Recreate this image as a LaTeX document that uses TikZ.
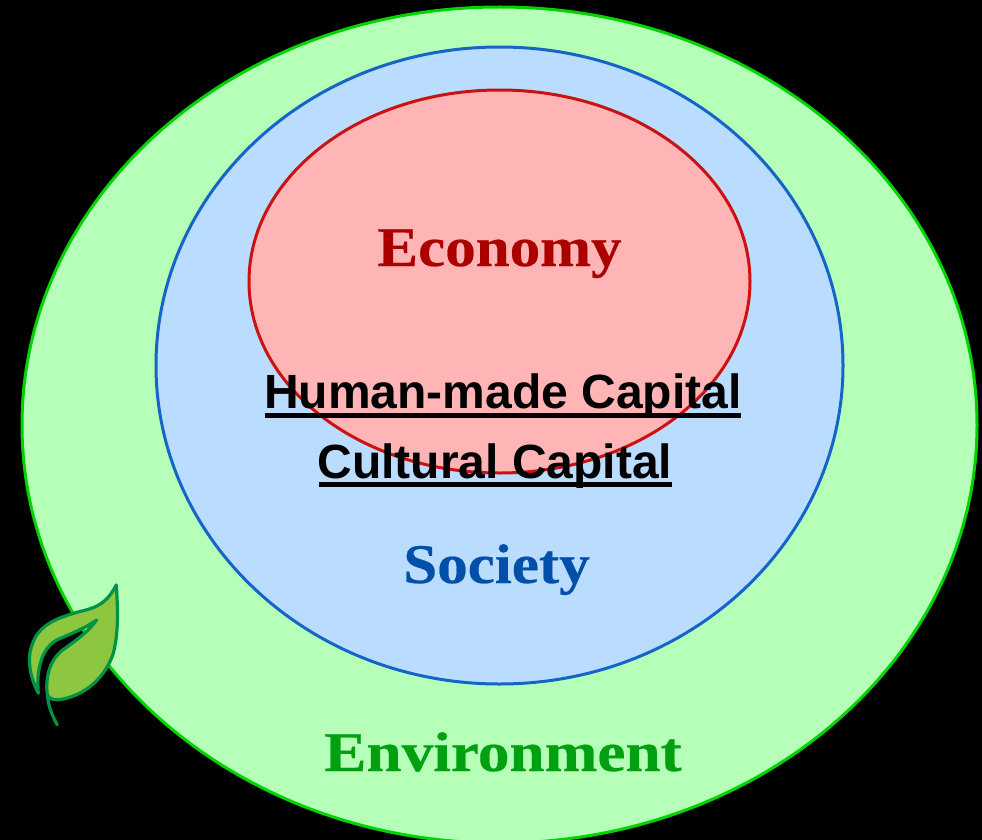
\documentclass[tikz,border=0pt]{standalone}
\usepackage{fontspec}
\setmainfont{Liberation Serif}
\setsansfont{Liberation Sans}
\newfontfamily\widea[FakeStretch=1.09,FakeBold=0.4]{Liberation Serif Bold}
\newfontfamily\wideb[FakeStretch=1.13,FakeBold=0.4]{Liberation Serif Bold}
\definecolor{envfill}{HTML}{B6FFB9}
\definecolor{envline}{HTML}{00D400}
\definecolor{socfill}{HTML}{B9DCFF}
\definecolor{socline}{HTML}{1565C8}
\definecolor{ecofill}{HTML}{FFB5B5}
\definecolor{ecoline}{HTML}{CC1111}
\definecolor{ecotext}{HTML}{AA0000}
\definecolor{soctext}{HTML}{0050AA}
\definecolor{envtext}{HTML}{00A010}
\definecolor{leaffill}{HTML}{8DC63F}
\definecolor{leafline}{HTML}{009245}
\tikzset{
  sphere/.style={line width=3pt},
  seriftext/.style={inner sep=0pt,anchor=base,font=\widea\fontsize{56}{60}\selectfont},
  seriftextwide/.style={inner sep=0pt,anchor=base,font=\wideb\fontsize{56}{60}\selectfont},
  capital/.style={inner sep=0pt,anchor=base,text=black,font=\sffamily\bfseries\fontsize{48}{52}\selectfont},
  rulebar/.style={line width=5pt,black},
  leafedge/.style={draw=leafline,line width=3.2pt,line join=round,line cap=round},
}
\begin{document}
\begin{tikzpicture}[x=1pt,y=-1pt]
\useasboundingbox (0,0) rectangle (982,840);
\fill[black] (0,0) rectangle (982,840);
\begin{scope}
\clip (0,0) rectangle (982,840);
\draw[sphere,fill=envfill,draw=envline] (499.5,425) ellipse [x radius=477.5,y radius=418];
\end{scope}
\draw[sphere,fill=socfill,draw=socline] (499.5,365.5) ellipse [x radius=343.5,y radius=318.5];
\draw[sphere,fill=ecofill,draw=ecoline] (499.5,281.5) ellipse [x radius=250.5,y radius=191.5];
\node[seriftext,text=ecotext] (economy) at (499.5,266) {Economy};
\node[seriftext,text=soctext] (society) at (496.5,583) {Society};
\node[seriftextwide,text=envtext] (environment) at (503,771) {Environment};
\node[capital] (human) at (503,408) {Human-made Capital};
\node[capital] (cultural) at (495,478) {Cultural Capital};
\draw[rulebar] (265,415.5) -- (741,415.5);
\draw[rulebar] (318.5,484.5) -- (671.5,484.5);
% leaf
\begin{scope}[shift={(0,560)},x=0.3333pt,y=-0.3333pt]
\fill[leaffill] (349,75) .. controls (320,130) and (290,142) .. (250,152)
  .. controls (170,172) and (120,195) .. (100,245)
  .. controls (75,300) and (95,360) .. (115,400)
  .. controls (108,330) and (125,265) .. (170,240)
  .. controls (215,220) and (255,205) .. (290,180)
  .. controls (265,215) and (230,240) .. (195,265)
  .. controls (150,295) and (135,350) .. (142,405)
  .. controls (150,420) and (170,422) .. (190,417)
  .. controls (270,400) and (320,340) .. (340,280)
  .. controls (358,210) and (352,130) .. (349,75) -- cycle;
\draw[leafedge] (349,75) .. controls (320,130) and (290,142) .. (250,152)
  .. controls (170,172) and (120,195) .. (100,245)
  .. controls (75,300) and (95,360) .. (115,400)
  .. controls (108,330) and (125,265) .. (170,240)
  .. controls (215,220) and (255,205) .. (290,180)
  .. controls (265,215) and (230,240) .. (195,265)
  .. controls (150,295) and (135,350) .. (142,405)
  .. controls (145,440) and (158,470) .. (172,495);
\draw[leafedge] (142,405) .. controls (150,420) and (170,422) .. (190,417)
  .. controls (270,400) and (320,340) .. (340,280)
  .. controls (358,210) and (352,130) .. (349,75);
\end{scope}
\end{tikzpicture}
\end{document}
